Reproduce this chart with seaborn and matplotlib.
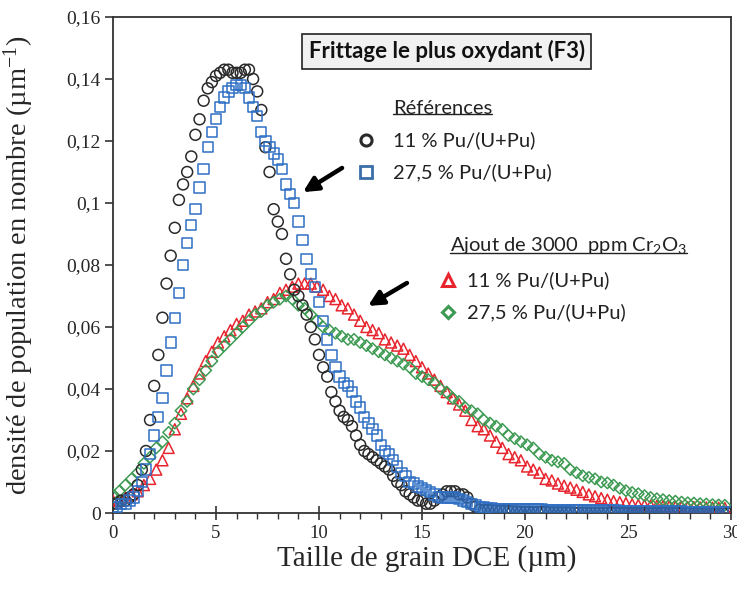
import numpy as np
import pandas as pd
import matplotlib
matplotlib.use("Agg")
import matplotlib.pyplot as plt
import seaborn as sns
from matplotlib.lines import Line2D
from matplotlib.transforms import IdentityTransform

# ---------------- data ----------------
x_ref = [0.0, 0.2, 0.4, 0.6, 0.8, 1.0, 1.2, 1.4, 1.6, 1.8,
         2.0, 2.2, 2.4, 2.6, 2.8, 3.0, 3.2, 3.4, 3.6, 3.8,
         4.0, 4.2, 4.4, 4.6, 4.8, 5.0, 5.2, 5.4, 5.6, 5.8,
         6.0, 6.2, 6.4, 6.6, 6.8, 7.0, 7.2, 7.4, 7.6, 7.8,
         8.0, 8.2, 8.4, 8.6, 8.8, 9.0, 9.2, 9.4, 9.6, 9.8,
         10.0, 10.2, 10.4, 10.6, 10.8, 11.0, 11.2, 11.4, 11.6, 11.8,
         12.0, 12.2, 12.4, 12.6, 12.8, 13.0, 13.2, 13.4, 13.6, 13.8,
         14.0, 14.2, 14.4, 14.6, 14.8, 15.0, 15.2, 15.4, 15.6, 15.8,
         16.0, 16.2, 16.4, 16.6, 16.8, 17.0, 17.2, 17.4, 17.6, 17.8,
         18.0, 18.2, 18.4, 18.6, 18.8, 19.0, 19.2, 19.4, 19.6, 19.8,
         20.0, 20.2, 20.4, 20.6, 20.8, 21.0, 21.2, 21.4, 21.6, 21.8,
         22.0, 22.2, 22.4, 22.6, 22.8, 23.0, 23.2, 23.4, 23.6, 23.8,
         24.0, 24.2, 24.4, 24.6, 24.8, 25.0, 25.2, 25.4, 25.6, 25.8,
         26.0, 26.2, 26.4, 26.6, 26.8, 27.0, 27.2, 27.4, 27.6, 27.8,
         28.0, 28.2, 28.4, 28.6, 28.8, 29.0, 29.2, 29.4, 29.6, 29.8]

ref_11 = [.003, .003, .004, .004, .005, .006, .009, .014, .020, .030,
          .041, .051, .063, .074, .083, .092, .101, .106, .110, .115,
          .122, .127, .133, .137, .139, .141, .142, .143, .143, .142,
          .142, .142, .143, .143, .140, .136, .130, .118, .110, .098,
          .094, .090, .082, .077, .072, .070, .067, .064, .060, .056,
          .051, .047, .044, .039, .036, .033, .031, .030, .028, .025,
          .022, .020, .019, .018, .017, .016, .015, .014, .012, .010,
          .009, .007, .006, .005, .004, .004, .003, .003, .004, .005,
          .006, .007, .007, .007, .006, .006, .005, .003, .002, .001,
          .001, .001, .001, .0008, .0008, .0006, .0006, .0005, .0005, .0004,
          .0004, .0004, .0003, .0003, .0003, .0003, .0002, .0002, .0002, .0002,
          .0002, .0002, .0001, .0001, .0001, .0001, .0001, .0001, .0001, .0001,
          .0001, .0001, 0, 0, 0, 0, 0, 0, 0, 0,
          0, 0, 0, 0, 0, 0, 0, 0, 0, 0,
          0, 0, 0, 0, 0, 0, 0, 0, 0, 0]

ref_275 = [.002, .002, .003, .003, .004, .005, .007, .010, .014, .019,
           .025, .031, .037, .046, .055, .063, .071, .080, .087, .093,
           .098, .105, .111, .118, .123, .127, .131, .134, .136, .137,
           .138, .138, .137, .134, .131, .128, .123, .120, .118, .116,
           .114, .111, .106, .103, .100, .094, .088, .082, .077, .073,
           .068, .062, .056, .051, .047, .044, .042, .041, .039, .036,
           .034, .031, .029, .027, .025, .022, .020, .019, .017, .015,
           .013, .012, .010, .0095, .0085, .008, .0074, .0067, .006, .0052,
           .005, .005, .005, .005, .0045, .004, .0035, .003, .0025, .002,
           .0018, .0016, .0015, .0014, .0014, .0013, .0013, .0012, .0012, .0012,
           .0012, .0011, .0011, .0011, .0011, .0010, .0010, .0010, .0010, .0010,
           .0010, .0010, .0009, .0009, .0009, .0009, .0009, .0008, .0008, .0008,
           .0008, .0008, .0008, .0007, .0007, .0007, .0007, .0007, .0006, .0006,
           .0006, .0006, .0006, .0005, .0005, .0005, .0005, .0005, .0005, .0004,
           .0004, .0004, .0004, .0004, .0004, .0003, .0003, .0003, .0003, .0003]

x_cr = [0.0, 0.3, 0.6, 0.9, 1.2, 1.5, 1.8, 2.1, 2.4, 2.7,
        3.0, 3.3, 3.6, 3.9, 4.2, 4.5, 4.8, 5.1, 5.4, 5.7,
        6.0, 6.3, 6.6, 6.9, 7.2, 7.5, 7.8, 8.1, 8.4, 8.7,
        9.0, 9.3, 9.6, 9.9, 10.2, 10.5, 10.8, 11.1, 11.4, 11.7,
        12.0, 12.3, 12.6, 12.9, 13.2, 13.5, 13.8, 14.1, 14.4, 14.7,
        15.0, 15.3, 15.6, 15.9, 16.2, 16.5, 16.8, 17.1, 17.4, 17.7,
        18.0, 18.3, 18.6, 18.9, 19.2, 19.5, 19.8, 20.1, 20.4, 20.7,
        21.0, 21.3, 21.6, 21.9, 22.2, 22.5, 22.8, 23.1, 23.4, 23.7,
        24.0, 24.3, 24.6, 24.9, 25.2, 25.5, 25.8, 26.1, 26.4, 26.7,
        27.0, 27.3, 27.6, 27.9, 28.2, 28.5, 28.8, 29.1, 29.4, 29.7]

cr_11 = [.004, .004, .005, .006, .007, .009, .011, .014, .017, .021,
         .027, .032, .037, .041, .045, .049, .052, .055, .057, .059,
         .061, .062, .064, .065, .066, .068, .069, .071, .072, .073,
         .074, .074, .074, .073, .072, .070, .069, .067, .066, .064,
         .062, .060, .059, .058, .056, .055, .054, .053, .051, .049,
         .047, .045, .043, .041, .039, .037, .035, .033, .030, .028,
         .027, .025, .023, .021, .019, .018, .017, .015, .014, .013,
         .011, .0105, .0095, .0088, .0082, .0075, .0068, .006, .0054, .0048,
         .0043, .0038, .0035, .0032, .0028, .0026, .0025, .0024, .0023, .0022,
         .0021, .002, .002, .0019, .0019, .0018, .0018, .0017, .0017, .0016]

cr_275 = [.006, .007, .009, .011, .013, .016, .018, .021, .023, .026,
          .029, .033, .036, .040, .043, .046, .049, .052, .054, .056,
          .058, .060, .062, .064, .065, .067, .068, .069, .070, .069,
          .067, .066, .064, .062, .060, .059, .058, .057, .056, .056,
          .055, .054, .053, .052, .051, .050, .049, .048, .047, .045,
          .044, .043, .042, .040, .039, .037, .036, .034, .033, .032,
          .030, .029, .028, .027, .025, .024, .023, .022, .021, .019,
          .018, .017, .0165, .016, .014, .013, .012, .0115, .011, .010,
          .0097, .009, .008, .0072, .0066, .0062, .0056, .005, .0046, .0043,
          .004, .0038, .0035, .0033, .0032, .003, .0029, .0027, .0026, .0025]

y_ticks = [0, 0.02, 0.04, 0.06, 0.08, 0.10, 0.12, 0.14, 0.16]
y_tick_labels = ["0", "0,02", "0,04", "0,06", "0,08", "0,1", "0,12", "0,14", "0,16"]
x_ticks = [0, 5, 10, 15, 20, 25, 30]
x_tick_labels = ["0", "5", "10", "15", "20", "25", "30"]

label_line = "11 % Pu/(U+Pu)"
label_line2 = "27,5 % Pu/(U+Pu)"

# ---------------- style ----------------
sns.set_theme(style="white")
plt.rcParams["font.family"] = ["Liberation Serif", "DejaVu Serif"]
plt.rcParams["mathtext.fontset"] = "custom"
plt.rcParams["mathtext.rm"] = "Liberation Serif"
plt.rcParams["mathtext.default"] = "regular"

SANS = ["Lato", "DejaVu Sans"]
C_BLACK = "#2a2a2a"
C_BLUE = "#2f6fc4"
C_RED = "#e8252e"
C_GREEN = "#3c9a52"
LEG_FS = 14.5

fig = plt.figure(figsize=(7.37, 5.94), dpi=100)
ax = fig.add_axes([113 / 737, 1 - 513 / 594, 618 / 737, 496 / 594])

df_ref = pd.DataFrame({"x": x_ref, "a": ref_11, "b": ref_275})
df_cr = pd.DataFrame({"x": x_cr, "a": cr_11, "b": cr_275})

sns.scatterplot(data=df_cr, x="x", y="a", marker="^", s=62, facecolors="none",
                edgecolor=C_RED, linewidth=1.1, ax=ax, legend=False, zorder=3)
sns.scatterplot(data=df_cr, x="x", y="b", marker="D", s=34, facecolors="none",
                edgecolor=C_GREEN, linewidth=1.1, ax=ax, legend=False, zorder=3)
sns.scatterplot(data=df_ref, x="x", y="a", marker="o", s=62, facecolors="none",
                edgecolor=C_BLACK, linewidth=1.1, ax=ax, legend=False, zorder=4)
sns.scatterplot(data=df_ref, x="x", y="b", marker="s", s=55, facecolors="none",
                edgecolor=C_BLUE, linewidth=1.1, ax=ax, legend=False, zorder=4)

ax.set_xlim(0, 30)
ax.set_ylim(0, 0.16)
ax.set_xticks(x_ticks)
ax.set_xticklabels(x_tick_labels)
ax.set_yticks(y_ticks)
ax.set_yticklabels(y_tick_labels)
ax.set_xticks(np.arange(0, 31, 1), minor=True)
ax.tick_params(axis="x", which="major", direction="inout", length=10, width=1.2,
               color="#333333", labelsize=13.5, pad=4, bottom=True)
ax.tick_params(axis="x", which="minor", direction="out", length=4, width=1.0,
               color="#333333", bottom=True)
ax.tick_params(axis="y", which="major", direction="out", length=6, width=1.2,
               color="#333333", labelsize=14, pad=3, left=True)
for sp in ax.spines.values():
    sp.set_visible(True)
    sp.set_color("#333333")
    sp.set_linewidth(1.3)

ax.set_xlabel("Taille de grain DCE (µm)", fontsize=21)
ax.set_ylabel("densité de population en nombre (µm$^{-1}$)", fontsize=20.5)
ax.xaxis.set_label_coords(0.508, -0.091)
ax.xaxis.label.set_va("center")
ax.yaxis.set_label_coords(-0.152, 0.5)
ax.yaxis.label.set_va("center")

# title box
ax.text(0.540, 0.931, "Frittage le plus oxydant (F3)", transform=ax.transAxes,
        ha="center", va="center", fontsize=16, fontweight="bold", family=SANS,
        color="#111111", zorder=6,
        bbox=dict(boxstyle="square,pad=0.3", facecolor="#f1f1f1",
                  edgecolor="#222222", linewidth=1.2))

# legend group 1
h1 = ax.text(0.453, 0.8165, "Références", transform=ax.transAxes, ha="left",
             va="center", fontsize=LEG_FS, family=SANS, color="#222222")
ax.text(0.453, 0.752, label_line, transform=ax.transAxes, ha="left",
        va="center", fontsize=LEG_FS, family=SANS, color="#222222")
ax.text(0.453, 0.6875, label_line2, transform=ax.transAxes, ha="left",
        va="center", fontsize=LEG_FS, family=SANS, color="#222222")
ax.plot([0.410], [0.752], marker="o", ms=8, mfc="none", mec=C_BLACK, mew=2.2,
        transform=ax.transAxes, clip_on=False)
ax.plot([0.410], [0.6875], marker="s", ms=8, mfc="none", mec="#3a6ea8", mew=2.0,
        transform=ax.transAxes, clip_on=False)

# legend group 2
h2 = ax.text(0.545, 0.540, "Ajout de 3000  ppm Cr$_2$O$_3$", transform=ax.transAxes,
             ha="left", va="center", fontsize=LEG_FS, family=SANS, color="#222222")
ax.text(0.573, 0.470, label_line, transform=ax.transAxes, ha="left",
        va="center", fontsize=LEG_FS, family=SANS, color="#222222")
ax.text(0.573, 0.405, label_line2, transform=ax.transAxes, ha="left",
        va="center", fontsize=LEG_FS, family=SANS, color="#222222")
ax.plot([0.542], [0.470], marker="^", ms=8, mfc="none", mec=C_RED, mew=2.2,
        transform=ax.transAxes, clip_on=False)
ax.plot([0.542], [0.405], marker="D", ms=6.5, mfc="none", mec=C_GREEN, mew=2.2,
        transform=ax.transAxes, clip_on=False)

# arrows
arrow_kw = dict(arrowstyle="-|>", lw=3.2, color="black", mutation_scale=22,
                shrinkA=0, shrinkB=0)
ax.annotate("", xy=(9.22, 0.1035), xytext=(11.12, 0.1113), arrowprops=arrow_kw)
ax.annotate("", xy=(12.38, 0.0668), xytext=(14.27, 0.0742), arrowprops=arrow_kw)

# underline headings
fig.canvas.draw()
r = fig.canvas.get_renderer()
for h in (h1, h2):
    bb = h.get_window_extent(r)
    fig.add_artist(Line2D([bb.x0, bb.x1], [bb.y0 + 2.5, bb.y0 + 2.5],
                          transform=IdentityTransform(), color="#222222", lw=1.0))

fig.savefig("out.png", dpi=100)
